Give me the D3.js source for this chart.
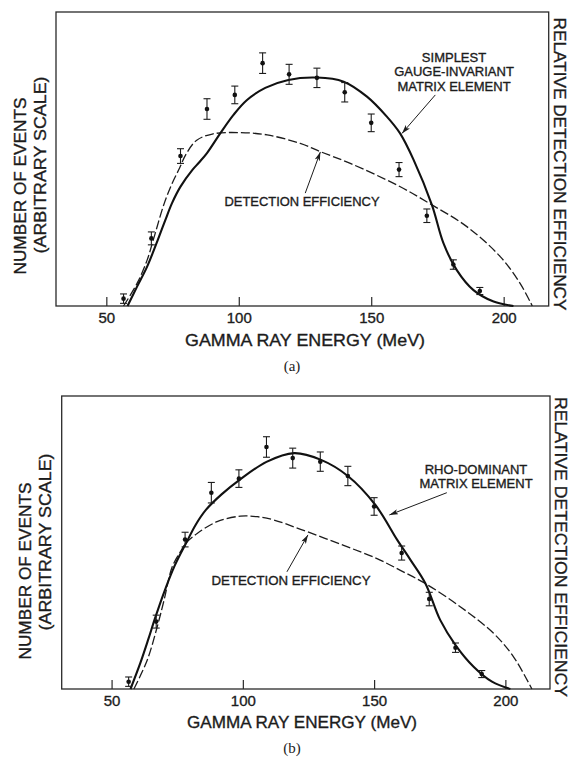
<!DOCTYPE html>
<html lang="en">
<head>
<meta charset="UTF-8">
<title>Gamma ray energy spectra</title>
<script src="https://d3js.org/d3.v7.min.js"></script>
<style>
  body { margin: 0; background: #fff; }
  svg { display: block; }
  text { font-family: "Liberation Sans", Arial, sans-serif; fill: #1c1c1c; }
  .lettering { stroke: #1c1c1c; stroke-width: 0.35px; }
</style>
</head>
<body>
<div id="chart"></div>
<script>
const energy   = [56.5, 67, 78, 88, 98.5, 109, 119, 129.5, 140, 150, 160.5, 171, 181, 191];
const events   = [0.025, 0.23, 0.51, 0.67, 0.718, 0.826, 0.788, 0.776, 0.727, 0.623, 0.464, 0.307, 0.141, 0.051];
const eventErr = [0.016, 0.022, 0.025, 0.035, 0.03, 0.035, 0.034, 0.033, 0.033, 0.03, 0.024, 0.023, 0.016, 0.012];

const xTicks = [50, 100, 150, 200];
const xDomain = [31, 217];

// theory curves, [MeV, relative value]
const gaugeCurve = [[58, 0], [61.6, 0.066], [65.4, 0.134], [69.4, 0.224], [72.3, 0.293], [74.8, 0.35],
  [78, 0.406], [82.5, 0.463], [85, 0.488], [88, 0.52], [93, 0.587], [98, 0.65], [103, 0.70],
  [110, 0.742], [118.7, 0.769], [129.5, 0.777], [139.6, 0.763], [148.4, 0.712], [155.9, 0.644],
  [160.9, 0.587], [166, 0.497], [172.9, 0.344], [177.3, 0.213], [182.3, 0.122], [188.6, 0.054],
  [196.2, 0.015], [203.7, 0]];
const effCurveA = [[56.5, 0], [61.6, 0.077], [65.4, 0.156], [67.7, 0.224], [71.9, 0.35], [75, 0.42],
  [77.7, 0.47], [80, 0.515], [84, 0.563], [90, 0.585], [100, 0.59], [110.7, 0.582], [123.2, 0.553],
  [130.8, 0.525], [142.1, 0.485], [160, 0.41], [172.9, 0.344], [186.1, 0.27], [198.7, 0.168],
  [206.2, 0.077], [210.8, 0]];
const rhoCurve = [[57.2, 0], [61, 0.09], [64, 0.17], [66.5, 0.24], [70, 0.33], [74, 0.42], [78.5, 0.5],
  [82, 0.56], [86, 0.612], [92, 0.665], [98.5, 0.712], [109, 0.775], [119.5, 0.805], [129.8, 0.782],
  [140, 0.727], [150.5, 0.628], [158.8, 0.509], [163.9, 0.44], [169.5, 0.361], [175.2, 0.235],
  [181, 0.15], [187.9, 0.076], [194.9, 0.025], [201.9, 0]];
const effCurveB = [[58.5, 0], [63.6, 0.099], [67.4, 0.213], [69.9, 0.30], [73.1, 0.417], [76.3, 0.47],
  [78.5, 0.5], [82.6, 0.531], [90.2, 0.571], [99.1, 0.59], [105.5, 0.588], [111.8, 0.577], [122, 0.545],
  [138.4, 0.49], [151.1, 0.445], [160, 0.405], [169.5, 0.36], [182.8, 0.281], [195.5, 0.19],
  [203.1, 0.11], [210.1, 0]];

const W = 574, H = 757;

const panels = [
  { tag: "(a)", left: 56, right: 548.7, top: 12, bottom: 306,
    theory: gaugeCurve, eff: effCurveA,
    theoryText: ["SIMPLEST", "GAUGE-INVARIANT", "MATRIX ELEMENT"], theoryTextX: 454, theoryTextY: 57.5,
    theoryArrow: [[174.2, 0.718], [161.6, 0.587]],
    effText: { x: 302, y: 201, len: 155 }, effArrow: [[125.1, 0.384], [130.8, 0.524]],
    yLab1X: 20, yLab1Y: 186, yLab2X: 40, yLab2Y: 165, rightX: 560, rightY: 164, rightLen: 293,
    xLabY: 340, xLabX: 305, xLabLen: 240, tagX: 292, tagY: 366 },
  { tag: "(b)", left: 61.7, right: 550, top: 396, bottom: 689,
    theory: rhoCurve, eff: effCurveB,
    theoryText: ["RHO-DOMINANT", "MATRIX ELEMENT"], theoryTextX: 476, theoryTextY: 469.5,
    theoryArrow: [[177.7, 0.67], [155.8, 0.594]],
    effText: { x: 291, y: 580, len: 159 }, effArrow: [[116.8, 0.40], [124.8, 0.526]],
    yLab1X: 25, yLab1Y: 571, yLab2X: 45, yLab2Y: 542, rightX: 561.5, rightY: 547, rightLen: 300,
    xLabY: 722, xLabX: 302, xLabLen: 230, tagX: 292, tagY: 748 }
];

const svg = d3.select("#chart").append("svg")
  .attr("width", W)
  .attr("height", H);

svg.append("defs").append("marker")
  .attr("id", "head")
  .attr("viewBox", "0 0 10 6")
  .attr("refX", 10).attr("refY", 3)
  .attr("markerWidth", 9).attr("markerHeight", 5.5)
  .attr("markerUnits", "userSpaceOnUse")
  .attr("orient", "auto")
  .append("path")
  .attr("d", "M0,0 L10,3 L0,6 L2.5,3 z")
  .attr("fill", "#1c1c1c");

panels.forEach(p => {
  const x = d3.scaleLinear().domain(xDomain).range([p.left, p.right]);
  const y = d3.scaleLinear().domain([0, 1]).range([p.bottom, p.top]);
  const g = svg.append("g");

  // frame
  g.append("rect")
    .attr("x", p.left).attr("y", p.top)
    .attr("width", p.right - p.left).attr("height", p.bottom - p.top)
    .attr("fill", "none").attr("stroke", "#2a2a2a").attr("stroke-width", 1.3);

  // ticks point up into the plot, labels below
  const ax = g.append("g")
    .attr("transform", "translate(0," + p.bottom + ")")
    .call(d3.axisBottom(x).tickValues(xTicks).tickSize(-9).tickPadding(6).tickSizeOuter(0));
  ax.select(".domain").remove();
  ax.selectAll("line").attr("stroke", "#2a2a2a").attr("stroke-width", 1.2);
  ax.selectAll("text")
    .attr("class", "lettering")
    .style("font-family", "'Liberation Sans', Arial, sans-serif")
    .style("font-size", "15px").attr("fill", "#1c1c1c");

  const line = d3.line()
    .x(d => x(d[0])).y(d => y(d[1]))
    .curve(d3.curveCatmullRom.alpha(0.5));

  g.append("path")
    .attr("d", line(p.eff))
    .attr("fill", "none").attr("stroke", "#1c1c1c")
    .attr("stroke-width", 1.3).attr("stroke-dasharray", "9,3");

  g.append("path")
    .attr("d", line(p.theory))
    .attr("fill", "none").attr("stroke", "#111")
    .attr("stroke-width", 2.1);

  // data points with error bars
  const pts = g.selectAll(".pt")
    .data(energy.map((e, i) => ({ e: e, v: events[i], err: eventErr[i] })))
    .enter().append("g").attr("class", "pt");
  pts.append("line")
    .attr("x1", d => x(d.e)).attr("x2", d => x(d.e))
    .attr("y1", d => y(d.v - d.err)).attr("y2", d => y(d.v + d.err))
    .attr("stroke", "#1c1c1c").attr("stroke-width", 1.1);
  [-1, 1].forEach(s => {
    pts.append("line")
      .attr("x1", d => x(d.e) - 3.5).attr("x2", d => x(d.e) + 3.5)
      .attr("y1", d => y(d.v + s * d.err)).attr("y2", d => y(d.v + s * d.err))
      .attr("stroke", "#1c1c1c").attr("stroke-width", 1.1);
  });
  pts.append("circle")
    .attr("cx", d => x(d.e)).attr("cy", d => y(d.v))
    .attr("r", 2.3).attr("fill", "#111");

  // annotations
  p.theoryText.forEach((t, i) => {
    g.append("text")
      .attr("class", "lettering")
      .attr("x", p.theoryTextX).attr("y", p.theoryTextY + i * 14.3)
      .attr("dy", "0.36em")
      .attr("text-anchor", "middle")
      .style("font-size", "13px")
      .text(t);
  });
  g.append("text")
    .attr("class", "lettering")
    .attr("x", p.effText.x).attr("y", p.effText.y)
    .attr("dy", "0.36em")
    .attr("text-anchor", "middle")
    .attr("textLength", p.effText.len).attr("lengthAdjust", "spacingAndGlyphs")
    .style("font-size", "13px")
    .text("DETECTION EFFICIENCY");

  [p.theoryArrow, p.effArrow].forEach(a => {
    g.append("line")
      .attr("x1", x(a[0][0])).attr("y1", y(a[0][1]))
      .attr("x2", x(a[1][0])).attr("y2", y(a[1][1]))
      .attr("stroke", "#1c1c1c").attr("stroke-width", 1)
      .attr("marker-end", "url(#head)");
  });

  // axis titles
  g.append("text")
    .attr("class", "lettering")
    .attr("x", p.xLabX).attr("y", p.xLabY)
    .attr("dy", "0.36em").attr("text-anchor", "middle")
    .attr("textLength", p.xLabLen).attr("lengthAdjust", "spacingAndGlyphs")
    .style("font-size", "17px")
    .text("GAMMA RAY ENERGY (MeV)");

  g.append("text")
    .attr("class", "lettering")
    .attr("transform", "translate(" + p.yLab1X + "," + p.yLab1Y + ") rotate(-90)")
    .attr("dy", "0.36em").attr("text-anchor", "middle")
    .attr("textLength", 177).attr("lengthAdjust", "spacingAndGlyphs")
    .style("font-size", "17px")
    .text("NUMBER OF EVENTS");
  g.append("text")
    .attr("class", "lettering")
    .attr("transform", "translate(" + p.yLab2X + "," + p.yLab2Y + ") rotate(-90)")
    .attr("dy", "0.36em").attr("text-anchor", "middle")
    .attr("textLength", 177).attr("lengthAdjust", "spacingAndGlyphs")
    .style("font-size", "17px")
    .text("(ARBITRARY SCALE)");

  g.append("text")
    .attr("class", "lettering")
    .attr("transform", "translate(" + p.rightX + "," + p.rightY + ") rotate(90)")
    .attr("dy", "0.36em").attr("text-anchor", "middle")
    .attr("textLength", p.rightLen).attr("lengthAdjust", "spacingAndGlyphs")
    .style("font-size", "17px")
    .text("RELATIVE DETECTION EFFICIENCY");

  g.append("text")
    .attr("x", p.tagX).attr("y", p.tagY)
    .attr("dy", "0.36em").attr("text-anchor", "middle")
    .style("font-family", "'Liberation Serif', 'DejaVu Serif', serif")
    .style("font-size", "15px")
    .text(p.tag);
});
</script>
</body>
</html>
